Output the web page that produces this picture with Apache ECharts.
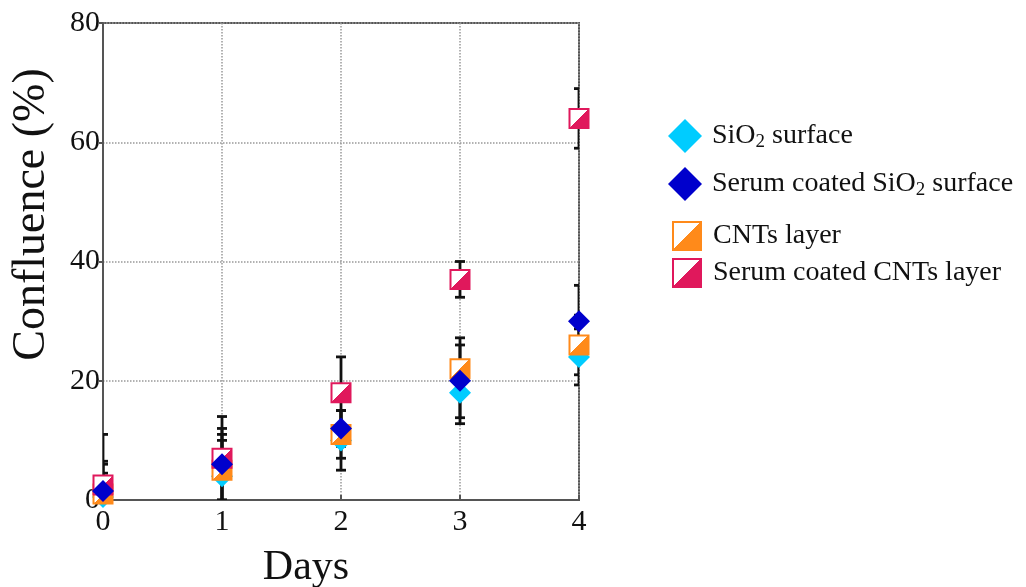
<!DOCTYPE html>
<html>
<head>
<meta charset="utf-8">
<script src="https://cdn.jsdelivr.net/npm/echarts@6/dist/echarts.min.js"></script>
<style>html,body{margin:0;padding:0;background:#fff;}#c{width:1026px;height:587px;}</style>
</head>
<body>
<div id="c"></div>
<script>
const days = [0, 1, 2, 3, 4];
const xTicks = ['0', '1', '2', '3', '4'];
const yTicks = ['0', '20', '40', '60', '80'];
const seriesNames = ['SiO2 surface', 'Serum coated SiO2 surface', 'CNTs layer', 'Serum coated CNTs layer'];
const sio2 = [0.5, 4, 10, 18, 24];
const sio2Err = [4, 6, 5, 4.2, 4.7];
const serumSio2 = [1.5, 6, 12, 20, 30];
const serumSio2Err = [5, 6, 3, 7.2, 6];
const cnts = [1, 5, 11, 22, 26];
const cntsErr = [5, 6, 4, 4, 5];
const serumCnts = [2.5, 7, 18, 37, 64];
const serumCntsErr = [8.5, 7, 6, 3, 5];

const FONT = 'Liberation Serif';
const chart = echarts.init(document.getElementById('c'));

function pts(vals) { return days.map((d, i) => [d, vals[i]]); }
function errData(vals, errs) { return days.map((d, i) => [d, vals[i] - errs[i], vals[i] + errs[i]]); }
function splitFill(color) {
  return new echarts.graphic.LinearGradient(0, 0, 1, 1, [
    {offset: 0, color: '#ffffff'}, {offset: 0.5, color: '#ffffff'},
    {offset: 0.5, color: color}, {offset: 1, color: color}
  ]);
}
function errSeries(vals, errs) {
  return {
    type: 'custom', z: 1, clip: true, silent: true,
    data: errData(vals, errs),
    renderItem: function (params, api) {
      const x = api.value(0), lo = api.value(1), hi = api.value(2);
      const a = api.coord([x, lo]), b = api.coord([x, hi]);
      const w = 5;
      const st = {stroke: '#111', lineWidth: 2.8};
      return {type: 'group', children: [
        {type: 'line', shape: {x1: a[0], y1: a[1], x2: b[0], y2: b[1]}, style: st},
        {type: 'line', shape: {x1: a[0] - w, y1: a[1], x2: a[0] + w, y2: a[1]}, style: st},
        {type: 'line', shape: {x1: b[0] - w, y1: b[1], x2: b[0] + w, y2: b[1]}, style: st}
      ]};
    }
  };
}
const colors = {sio2: '#00ccff', serumSio2: '#0000cc', cnts: '#ff8a1a', serumCnts: '#e0185c'};

function labelFmt(name) {
  return name.replace('SiO2', 'SiO{sub|2}');
}
function legendText(padLeft) {
  return {
    fontFamily: FONT, fontSize: 28, color: '#111', padding: [0, 0, 0, padLeft],
    rich: {sub: {fontFamily: FONT, fontSize: 19, color: '#111', padding: [12, 0, 0, 0]}}
  };
}
function mkLegend(name, left, top, size, padLeft) {
  return {data: [name], left: left, top: top, itemWidth: size, itemHeight: size,
    formatter: labelFmt, textStyle: legendText(padLeft), selectedMode: false};
}

chart.setOption({
  animation: false,
  backgroundColor: '#fff',
  grid: {left: 103, right: 447, top: 23, bottom: 87, show: true, borderColor: '#555', borderWidth: 2,
    containLabel: false, outerBoundsMode: 'none'},
  legend: [
    mkLegend(seriesNames[0], 663, 114, 34, 5),
    mkLegend(seriesNames[1], 663, 162, 34, 5),
    mkLegend(seriesNames[2], 667, 216, 28, 7),
    mkLegend(seriesNames[3], 667, 253, 28, 7)
  ],
  xAxis: {
    type: 'value', min: 0, max: 4, interval: 1,
    name: 'Days', nameLocation: 'middle', nameGap: 47,
    nameTextStyle: {fontFamily: FONT, fontSize: 42, color: '#111', padding: [0, 70, 0, 0]},
    axisLine: {show: true, lineStyle: {color: '#555', width: 2}},
    axisTick: {show: true, inside: true, length: 5, lineStyle: {color: '#555', width: 2}},
    axisLabel: {fontFamily: FONT, fontSize: 30, color: '#111', margin: 7,
      formatter: v => xTicks[days.indexOf(v)]},
    splitLine: {show: true, lineStyle: {color: '#999', type: 'dotted', width: 1.5}}
  },
  yAxis: {
    type: 'value', min: 0, max: 80, interval: 20,
    name: 'Confluence (%)', nameLocation: 'middle', nameGap: 48,
    nameTextStyle: {fontFamily: FONT, fontSize: 46, color: '#111', padding: [0, 0, 0, 94]},
    axisLine: {show: true, lineStyle: {color: '#555', width: 2}},
    axisTick: {show: true, inside: false, length: 4, lineStyle: {color: '#555', width: 2}},
    axisLabel: {fontFamily: FONT, fontSize: 30, color: '#111', margin: 3,
      formatter: v => yTicks[v / 20]},
    splitLine: {show: true, lineStyle: {color: '#999', type: 'dotted', width: 1.5}}
  },
  series: [
    errSeries(sio2, sio2Err),
    errSeries(serumSio2, serumSio2Err),
    errSeries(cnts, cntsErr),
    errSeries(serumCnts, serumCntsErr),
    {name: seriesNames[0], type: 'scatter', z: 3, clip: false, symbol: 'diamond', symbolSize: 22,
      itemStyle: {color: colors.sio2, opacity: 1}, data: pts(sio2)},
    {name: seriesNames[2], type: 'scatter', z: 4, clip: false, symbol: 'rect', symbolSize: 19,
      itemStyle: {color: splitFill(colors.cnts), borderColor: colors.cnts, borderWidth: 2, opacity: 1}, data: pts(cnts)},
    {name: seriesNames[3], type: 'scatter', z: 5, clip: false, symbol: 'rect', symbolSize: 19,
      itemStyle: {color: splitFill(colors.serumCnts), borderColor: colors.serumCnts, borderWidth: 2, opacity: 1}, data: pts(serumCnts)},
    {name: seriesNames[1], type: 'scatter', z: 6, clip: false, symbol: 'diamond', symbolSize: 22,
      itemStyle: {color: colors.serumSio2, opacity: 1}, data: pts(serumSio2)}
  ]
});
</script>
</body>
</html>
